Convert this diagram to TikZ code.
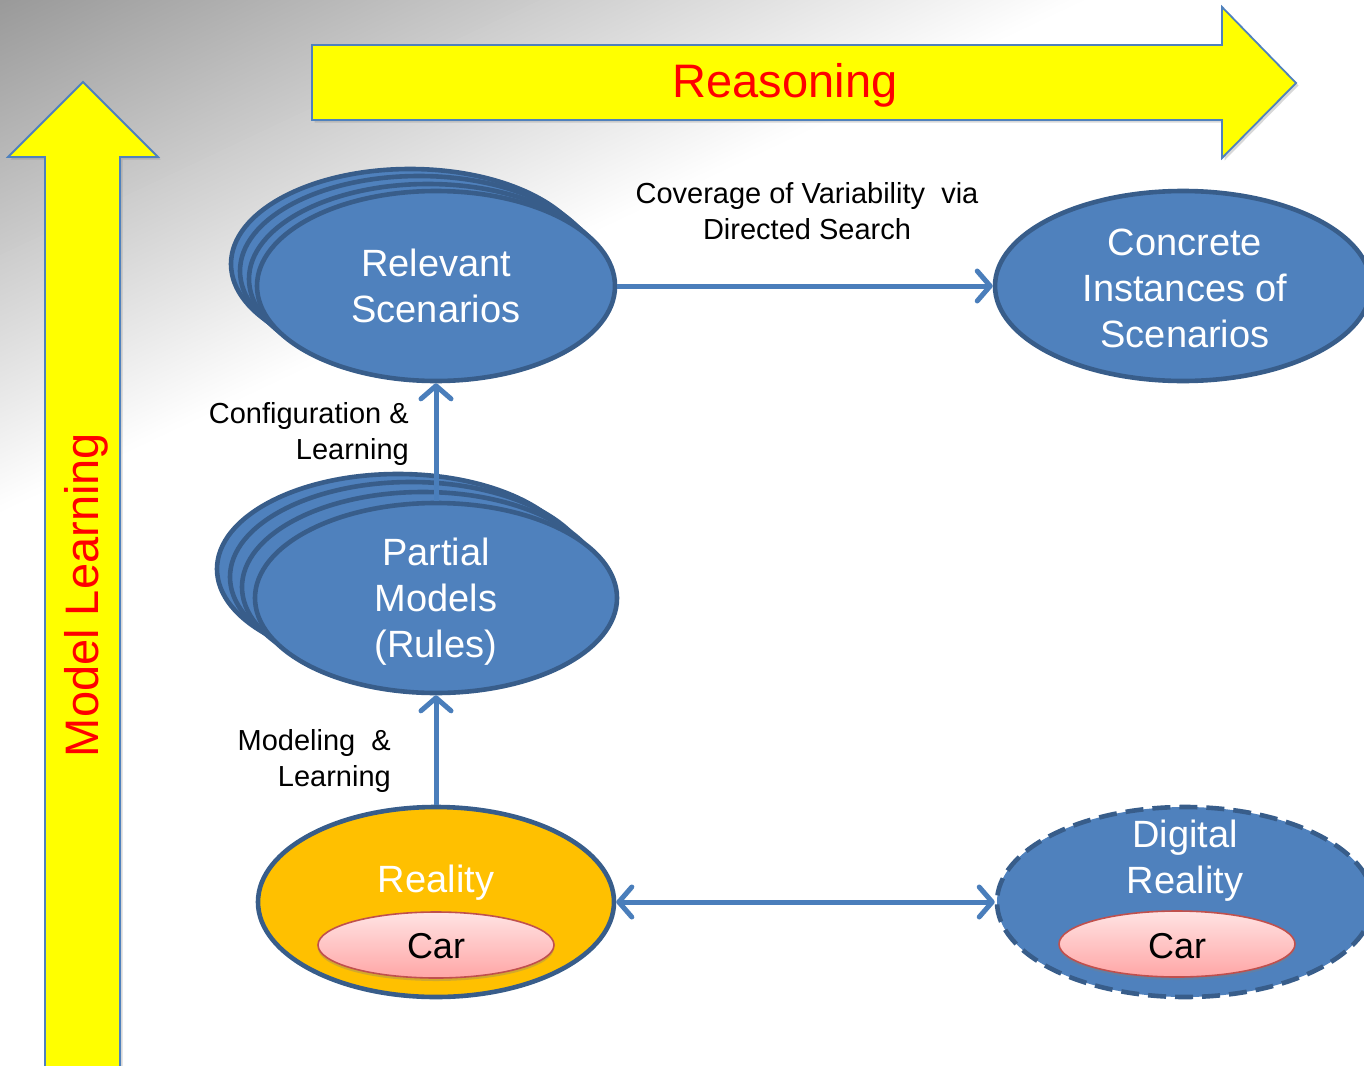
\documentclass[tikz,border=0pt]{standalone}
\usepackage{fontspec}
\setmainfont{Liberation Sans}
\usetikzlibrary{shapes.geometric,arrows.meta,shadows}

\definecolor{nodeblue}{HTML}{4F81BD}
\definecolor{nodeline}{HTML}{385D8A}
\definecolor{connblue}{HTML}{4A7EBB}
\definecolor{realgold}{HTML}{FFC000}
\definecolor{carline}{HTML}{C0504D}
\definecolor{cartop}{HTML}{FFE3E3}
\definecolor{carbot}{HTML}{FFA6A6}
\definecolor{bigarrow}{HTML}{FFFF00}
\definecolor{bigarrowline}{HTML}{4F81BD}

\tikzset{
  blob/.style={ellipse, draw=nodeline, fill=nodeblue, line width=4.6pt,
    inner sep=0pt, minimum width=#1},
  blobh/.style={minimum height=#1},
  nodetext/.style={align=center, text=white, inner sep=0pt,
    font=\fontsize{38}{46}\selectfont},
  cartext/.style={text=black, inner sep=0pt, font=\fontsize{36}{42}\selectfont},
  carblob/.style={ellipse, draw=carline, line width=1.6pt, inner sep=0pt,
    top color=cartop, bottom color=carbot,
    minimum width=236pt, minimum height=66pt,
    drop shadow={shadow xshift=0pt, shadow yshift=-3pt, opacity=0.35}},
  edgelabel/.style={align=center, text=black, inner sep=0pt,
    font=\fontsize{29}{36}\selectfont},
  barb/.style={Straight Barb[length=13pt, width=30pt, line cap=round, line join=round]},
  conn/.style={draw=connblue, line width=5pt, -{Straight Barb[length=13pt, width=30pt, line cap=round, line join=round]}},
  conn2/.style={draw=connblue, line width=5pt,
    {Straight Barb[length=13pt, width=30pt, line cap=round, line join=round]}-{Straight Barb[length=13pt, width=30pt, line cap=round, line join=round]}},
  bigarrowstyle/.style={fill=bigarrow, draw=bigarrowline, line width=1.8pt,
    line join=miter,
    drop shadow={shadow xshift=2.5pt, shadow yshift=-2.5pt, opacity=0.3}},
  bigtext/.style={text=red, inner sep=0pt, font=\fontsize{47}{56}\selectfont}
}

\begin{document}
\begin{tikzpicture}[x=1pt, y=-1pt]
  \useasboundingbox (0,0) rectangle (1364,1065);
  \fill[white] (0,0) rectangle (1364,1065);

  % grey backdrop fading diagonally from the top-left corner
  \foreach \i in {0,...,99} {
    \pgfmathsetmacro\ta{\i/100}
    \pgfmathsetmacro\tb{(\i+1.3)/100}
    \pgfmathsetmacro\wh{60+40*(\i+0.5)/100}
    \fill[white!\wh!black] (1080*\ta,0) -- (1080*\tb,0) -- (0,510*\tb) -- (0,510*\ta) -- cycle;
  }

  % the two broad arrows
  \draw[bigarrowstyle] (45,1068) -- (45,157) -- (8,157) -- (83,82) -- (158,157)
        -- (120,157) -- (120,1068) -- cycle;
  \draw[bigarrowstyle] (312,45) -- (1222,45) -- (1222,7) -- (1296,83) -- (1222,158)
        -- (1222,120) -- (312,120) -- cycle;
  \node[bigtext] (reasoning) at (785,85) {Reasoning};
  \node[bigtext, rotate=90] (modellearning) at (86,595) {Model Learning};

  % relevant scenarios (stack)
  \node[blob=358pt, blobh=190pt] (rs3) at (410,264) {};
  \node[blob=358pt, blobh=190pt] (rs2) at (419,271) {};
  \node[blob=358pt, blobh=190pt] (rs1) at (428,279) {};
  \node[blob=358pt, blobh=190pt] (rs) at (436,286) {};
  \node[nodetext] (rstext) at (rs) {Relevant\\Scenarios};

  % partial models (stack)
  \node[blob=362pt, blobh=190pt] (pm3) at (398,569) {};
  \node[blob=362pt, blobh=190pt] (pm2) at (411,577) {};
  \node[blob=362pt, blobh=190pt] (pm1) at (423,587) {};
  \node[blob=362pt, blobh=190pt] (pm) at (436,598) {};
  \node[nodetext] (pmtext) at (436,602) {Partial\\Models\\(Rules)};

  % concrete instances
  \node[blob=376pt, blobh=190pt] (ci) at (1183,286) {};
  \node[nodetext] (citext) at (1185,288) {Concrete\\Instances of\\Scenarios};

  % reality
  \node[blob=356pt, blobh=190pt, fill=realgold] (re) at (436,902) {};
  \node[nodetext] (retext) at (436,883) {Reality};
  \node[carblob] (car1) at (436,945) {};
  \node[cartext] (car1text) at (436,946) {Car};

  % digital reality
  \node[blob=376pt, blobh=190pt, dash pattern=on 18pt off 9pt] (dr) at (1185,902) {};
  \node[nodetext] (drtext) at (1185,861) {Digital\\Reality};
  \node[carblob] (car2) at (1177,944) {};
  \node[cartext] (car2text) at (1177,946) {Car};

  % connectors
  \draw[conn] (rs.east) -- (ci.west);
  \draw[conn] (pm.north) -- (rs.south);
  \draw[conn] (re.north) -- (pm.south);
  \draw[conn2] (re.east) -- (dr.west);

  % connector labels
  \node[edgelabel] (lblcov) at (807,211) {Coverage of Variability\ \ via\\Directed Search};
  \node[edgelabel, align=right, anchor=east] (lblconf) at (409,434) {Configuration \&\\Learning};
  \node[edgelabel, align=right, anchor=east] (lblmod) at (391,761) {Modeling\ \ \&\\Learning};
\end{tikzpicture}
\end{document}
